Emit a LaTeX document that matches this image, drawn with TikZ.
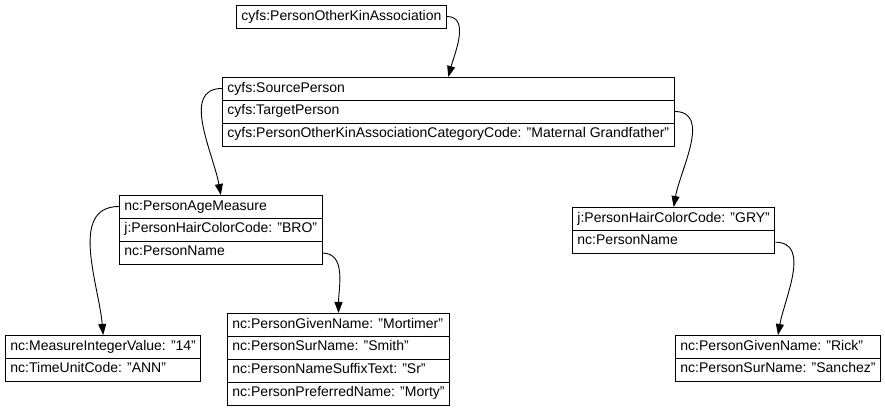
\documentclass[tikz,border=0pt]{standalone}
\usepackage{fontspec}
\setmainfont{Liberation Sans}
\usetikzlibrary{shapes.multipart,arrows.meta}

\begin{document}
\begin{tikzpicture}[x=1pt, y=1pt,
            record/.style = {draw, line width=0.9pt, rectangle split, rectangle split parts=#1,
                rectangle split part align=left, inner xsep=5pt, inner ysep=3pt,
                anchor=north west, font=\fontsize{14}{16}\selectfont},
            link/.style = {-{Triangle[length=11pt, width=8pt]}, line width=0.9pt}]
            \useasboundingbox (0,0) rectangle (885,409);
            \node[record=1] (kin) at (236,404) {\strut cyfs:PersonOtherKinAssociation};
            \node[record=3] (src) at (222,332) {\strut cyfs:SourcePerson
                \nodepart{two}\strut cyfs:TargetPerson
                \nodepart{three}\strut cyfs:PersonOtherKinAssociationCategoryCode: "Maternal Grandfather"};
            \node[record=3] (age) at (119,214) {\strut nc:PersonAgeMeasure
                \nodepart{two}\strut j:PersonHairColorCode: "BRO"
                \nodepart{three}\strut nc:PersonName};
            \node[record=2] (gry) at (572,202) {\strut j:PersonHairColorCode: "GRY"
                \nodepart{two}\strut nc:PersonName};
            \node[record=2] (measure) at (5,74) {\strut nc:MeasureIntegerValue: "14"
                \nodepart{two}\strut nc:TimeUnitCode: "ANN"};
            \node[record=4] (mortimer) at (227,96) {\strut nc:PersonGivenName: "Mortimer"
                \nodepart{two}\strut nc:PersonSurName: "Smith"
                \nodepart{three}\strut nc:PersonNameSuffixText: "Sr"
                \nodepart{four}\strut nc:PersonPreferredName: "Morty"};
            \node[record=2] (rick) at (675,74) {\strut nc:PersonGivenName: "Rick"
                \nodepart{two}\strut nc:PersonSurName: "Sanchez"};
            % edges leave from the row that holds the reference
            \draw[link] ([yshift=-11.5pt]kin.north east) to[out=0, in=75] (src.north);
            \draw[link] ([yshift=-11.5pt]src.north west) to[out=180, in=100] (age.north);
            \draw[link] ([yshift=-34.5pt]src.north east) to[out=0, in=80] (gry.north);
            \draw[link] ([yshift=-11.5pt]age.north west) to[out=180, in=95] (measure.north);
            \draw[link] ([yshift=11.5pt]age.south east) to[out=0, in=90] (mortimer.north);
            \draw[link] ([yshift=11.5pt]gry.south east) to[out=0, in=80] (rick.north);
\end{tikzpicture}
\end{document}
